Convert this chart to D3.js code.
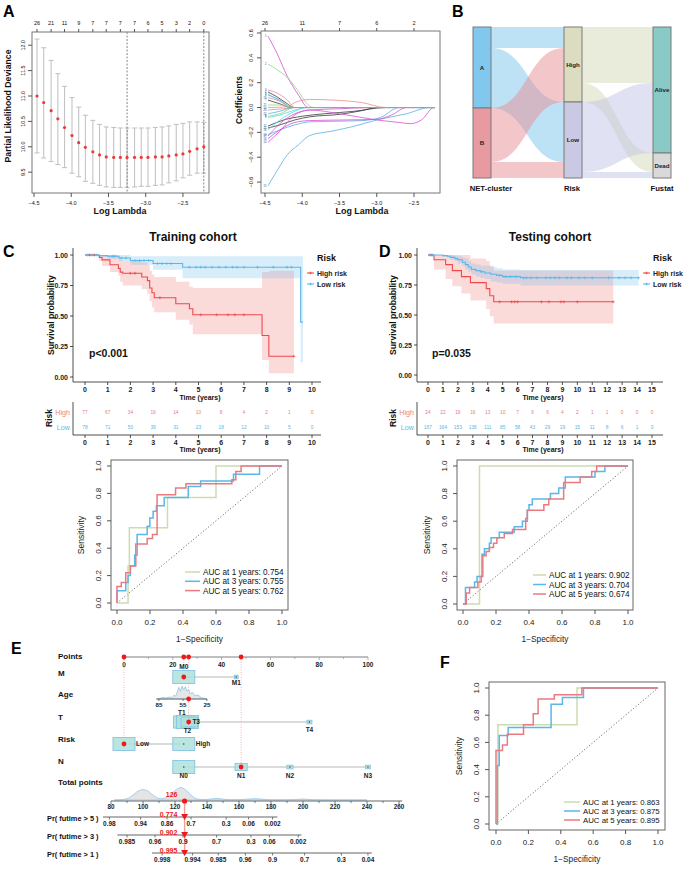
<!DOCTYPE html>
<html><head><meta charset="utf-8">
<script src="https://cdn.jsdelivr.net/npm/d3@7/dist/d3.min.js"></script>
<style>html,body{margin:0;padding:0;background:#fff;}svg{display:block;}</style>
</head><body>
<svg id="fig" width="685" height="869" font-family="'Liberation Sans', Arial, Helvetica, sans-serif"></svg>
<script>
// ================= DATA =================
// Panel A left: LASSO cross-validation curve
const cvLogLambda=[-4.46,-4.37,-4.27,-4.18,-4.09,-3.99,-3.90,-3.81,-3.71,-3.62,-3.53,-3.43,-3.34,-3.25,-3.15,-3.06,-2.97,-2.87,-2.78,-2.69,-2.59,-2.50,-2.41,-2.31,-2.22];
const cvMean =[11.00,10.87,10.71,10.55,10.38,10.22,10.08,9.99,9.90,9.84,9.80,9.79,9.79,9.79,9.79,9.79,9.79,9.80,9.80,9.82,9.84,9.86,9.91,9.96,10.00];
const cvUpper=[12.12,11.95,11.70,11.44,11.19,10.97,10.78,10.62,10.52,10.44,10.39,10.38,10.37,10.37,10.37,10.37,10.37,10.38,10.39,10.41,10.44,10.46,10.49,10.49,10.48];
const cvLower=[9.88,9.78,9.71,9.65,9.59,9.48,9.41,9.32,9.28,9.24,9.21,9.20,9.20,9.20,9.21,9.22,9.22,9.24,9.25,9.29,9.33,9.39,9.44,9.48,9.48];
const cvDfLabels=[26,21,11,9,7,7,7,7,6,5,3,2,0];
const lambdaMin=-3.25, lambda1se=-2.22;
const cvXTicks=[-4.5,-4.0,-3.5,-3.0,-2.5];
const cvYTicks=[9.5,10.0,10.5,11.0,11.5,12.0];

// Panel A right: coefficient paths [logLambda, coefficient]
const coefDfTicks=[-4.5,-4.0,-3.5,-3.0,-2.5];
const coefDfLabels=[26,11,7,6,2];
const coefYTicks=[-0.6,-0.4,-0.2,0.0,0.2,0.4,0.6];
const coefPaths=[
 [[-4.46,0.575],[-4.35,0.45],[-4.2,0.25],[-4.05,0.1],[-3.92,0]],
 [[-4.46,0.35],[-4.35,0.31],[-4.2,0.24],[-4.05,0.13],[-3.95,0.04],[-3.85,0]],
 [[-4.46,0.14],[-4.35,0.12],[-4.2,0.06],[-4.1,0]],
 [[-4.46,0.125],[-4.35,0.09],[-4.2,0.03],[-4.12,0]],
 [[-4.46,0.11],[-4.35,0.07],[-4.2,0.02],[-4.15,0]],
 [[-4.46,0.10],[-4.3,0.06],[-4.15,0]],
 [[-4.46,0.06],[-4.3,0.03],[-4.15,0]],
 [[-4.46,-0.07],[-4.3,-0.05],[-4.1,0]],
 [[-4.46,-0.08],[-4.3,-0.06],[-4.1,-0.02],[-3.9,0]],
 [[-4.46,0.0],[-4.2,0.005],[-4.1,0.04],[-3.9,0.065],[-3.6,0.06],[-3.2,0.04],[-2.88,0]],
 [[-4.46,-0.165],[-4.3,-0.14],[-4.1,-0.10],[-3.9,-0.075],[-3.5,-0.055],[-3.2,-0.025],[-3.0,0]],
 [[-4.46,-0.15],[-4.25,-0.10],[-4.0,-0.07],[-3.7,-0.05],[-3.3,-0.03],[-2.88,0]],
 [[-4.46,-0.22],[-4.3,-0.18],[-4.1,-0.14],[-3.9,-0.115],[-3.5,-0.11],[-3.2,-0.105],[-2.95,-0.08],[-2.7,0]],
 [[-4.46,-0.28],[-4.3,-0.19],[-4.1,-0.06],[-3.9,-0.02],[-3.5,-0.05],[-3.0,-0.10],[-2.7,-0.12],[-2.55,-0.13],[-2.4,-0.10],[-2.23,0]],
 [[-4.46,-0.63],[-4.35,-0.52],[-4.2,-0.38],[-4.05,-0.30],[-3.9,-0.225],[-3.6,-0.19],[-3.3,-0.15],[-3.0,-0.10],[-2.6,-0.05],[-2.29,0]],
 [[-4.46,-0.25],[-4.3,-0.18],[-4.1,-0.12],[-3.9,-0.105],[-3.4,-0.10],[-3.0,-0.095],[-2.8,-0.06],[-2.6,0]],
 [[-4.46,-0.23],[-4.3,-0.13],[-4.1,-0.05],[-3.9,-0.02],[-3.5,-0.01],[-3.1,0]],
 [[-4.46,-0.18],[-4.3,-0.10],[-4.1,-0.03],[-3.95,0]],
 [[-4.46,0.08],[-4.3,0.05],[-4.15,0]],
 [[-4.46,-0.02],[-4.25,-0.01],[-4.1,0]],
 [[-4.46,0.02],[-4.3,0.02],[-4.1,0]],
 [[-4.46,-0.05],[-4.3,-0.03],[-4.12,0]]
];
const coefPathColor=[5,2,1,0,4,3,0,2,4,1,0,0,3,5,3,5,5,4,1,1,2,3];

// Panel B: alluvial
const clusterLevels=['A','B'], riskLevels=['High','Low'], fustatLevels=['Alive','Dead'];
const flowClusterRisk=[['A','High',21],['A','Low',60],['B','High',54],['B','Low',16]];
const flowRiskFustat=[['High','Alive',56],['High','Dead',19],['Low','Alive',70],['Low','Dead',6]];

// Panel C: training KM  [time, survival] ; CI [time, lower, upper]
const trainHigh=[[0,1],[0.63,0.98],[0.75,0.96],[1.1,0.92],[1.47,0.89],[1.55,0.86],[1.66,0.85],[2.5,0.82],[2.75,0.79],[2.85,0.73],[2.95,0.69],[3.05,0.65],[4.0,0.60],[4.6,0.56],[4.75,0.51],[7.8,0.34],[8.1,0.17],[9.2,0.17]];
const trainHighCI=[[0,1,1],[0.63,0.95,1],[0.75,0.91,1],[1.1,0.86,1],[1.47,0.83,0.98],[1.55,0.78,0.96],[1.66,0.75,0.95],[2.5,0.72,0.94],[2.75,0.68,0.92],[2.85,0.62,0.87],[2.95,0.57,0.84],[3.05,0.53,0.82],[4.0,0.47,0.78],[4.6,0.43,0.74],[4.75,0.35,0.73],[7.8,0.14,0.86],[8.1,0.03,0.87],[9.2,0.03,0.87]];
const trainLow=[[0,1],[0.6,0.995],[1.0,0.99],[1.5,0.975],[2.0,0.955],[3.0,0.93],[4.3,0.90],[9.5,0.45],[9.6,0.45]];
const trainLowCI=[[0,1,1],[0.6,0.985,1],[1.0,0.97,1],[1.5,0.95,1],[2.0,0.92,0.99],[3.0,0.88,0.99],[4.3,0.81,0.99],[9.5,0.12,0.99],[9.6,0.12,0.99]];
const trainHighCens=[0.2,0.4,2.0,2.2,3.3,5.1,5.8,6.3,6.6,7.0,9.2];
const trainLowCens=[0.1,0.3,0.5,1.2,1.3,1.6,1.8,2.2,2.4,2.6,2.8,3.2,3.4,3.6,3.8,4.6,4.9,5.1,5.3,5.6,5.9,6.2,6.5,6.7,7.0,7.6,8.3,8.9,9.1];
const trainTimes=[0,1,2,3,4,5,6,7,8,9,10];
const trainRiskHigh=[77,67,34,19,14,10,8,4,2,1,0];
const trainRiskLow=[78,71,50,39,31,23,18,12,10,5,0];

// Panel D: testing KM
const testHigh=[[0,1],[0.4,0.96],[1.18,0.92],[1.63,0.87],[2.24,0.82],[2.84,0.77],[3.9,0.72],[4.14,0.66],[4.4,0.61],[12.4,0.61]];
const testHighCI=[[0,1,1],[0.4,0.88,1],[1.18,0.80,1],[1.63,0.74,1],[2.24,0.68,1],[2.84,0.62,0.97],[3.9,0.55,0.95],[4.14,0.49,0.91],[4.4,0.43,0.87],[12.4,0.43,0.87]];
const testLow=[[0,1],[1.0,0.995],[1.3,0.99],[1.5,0.98],[1.8,0.97],[2.0,0.96],[2.3,0.94],[2.5,0.92],[2.7,0.90],[2.9,0.88],[3.2,0.87],[3.5,0.86],[3.8,0.85],[4.2,0.84],[4.6,0.83],[5.0,0.82],[6.2,0.81],[14.1,0.81]];
const testLowCI=[[0,1,1],[1.0,0.985,1],[1.3,0.975,1],[1.5,0.96,1],[1.8,0.95,0.995],[2.0,0.93,0.99],[2.3,0.91,0.98],[2.5,0.88,0.97],[2.7,0.86,0.95],[2.9,0.84,0.93],[3.2,0.82,0.92],[3.5,0.81,0.91],[3.8,0.80,0.91],[4.2,0.78,0.90],[4.6,0.77,0.89],[5.0,0.76,0.88],[6.2,0.745,0.875],[14.1,0.745,0.875]];
const testHighCens=[0.2,4.8,5.6,5.8,6.0,7.6,8.1,8.9,9.1,10.0,12.4];
const testLowCens=[0.1,0.3,3.6,4.8,5.2,5.5,5.9,6.4,6.6,6.9,7.3,7.9,8.2,8.5,8.8,9.3,9.6,10.1,10.5,11.0,12.1,12.8,13.2,13.6,14.1];
const testTimes=[0,1,2,3,4,5,6,7,8,9,10,11,12,13,14,15];
const testRiskHigh=[24,22,19,16,13,10,7,6,6,4,2,1,1,0,0,0];
const testRiskLow=[167,164,153,136,111,85,58,43,29,19,15,11,8,6,1,0];

// ROC curves [FPR, TPR]
const rocTrain1=[[0,0],[0.067,0],[0.067,0.27],[0.075,0.27],[0.075,0.55],[0.306,0.55],[0.306,0.77],[0.60,0.77],[0.60,1],[1,1]];
const rocTrain3=[[0,0],[0,0.09],[0.053,0.09],[0.053,0.15],[0.067,0.15],[0.067,0.2],[0.081,0.2],[0.081,0.27],[0.107,0.27],[0.107,0.35],[0.122,0.35],[0.122,0.5],[0.183,0.5],[0.183,0.56],[0.199,0.56],[0.199,0.62],[0.219,0.62],[0.219,0.67],[0.239,0.67],[0.239,0.71],[0.286,0.71],[0.286,0.77],[0.432,0.77],[0.432,0.85],[0.507,0.85],[0.507,0.89],[0.706,0.89],[0.706,0.94],[0.864,0.94],[0.864,1],[1,1]];
const rocTrain5=[[0,0],[0,0.12],[0.026,0.12],[0.026,0.15],[0.053,0.15],[0.053,0.22],[0.081,0.22],[0.081,0.27],[0.114,0.27],[0.114,0.43],[0.183,0.43],[0.183,0.47],[0.215,0.47],[0.215,0.5],[0.243,0.5],[0.243,0.79],[0.355,0.79],[0.355,0.84],[0.418,0.84],[0.418,0.87],[0.696,0.87],[0.696,0.90],[0.72,0.90],[0.72,0.96],[0.752,0.96],[0.752,1],[1,1]];
const rocTest1=[[0,0],[0.10,0],[0.10,1],[1,1]];
const rocTest3=[[0,0],[0.015,0],[0.015,0.12],[0.07,0.12],[0.07,0.16],[0.085,0.16],[0.085,0.2],[0.115,0.2],[0.115,0.36],[0.13,0.36],[0.13,0.4],[0.16,0.4],[0.16,0.44],[0.17,0.44],[0.17,0.48],[0.22,0.48],[0.22,0.52],[0.31,0.52],[0.31,0.56],[0.36,0.56],[0.36,0.6],[0.39,0.6],[0.39,0.68],[0.40,0.68],[0.40,0.72],[0.42,0.72],[0.42,0.76],[0.53,0.76],[0.53,0.8],[0.58,0.8],[0.58,0.84],[0.62,0.84],[0.62,0.92],[0.80,0.92],[0.80,0.96],[0.86,0.96],[0.86,1],[1,1]];
const rocTest5=[[0,0],[0.02,0],[0.02,0.08],[0.04,0.08],[0.04,0.12],[0.09,0.12],[0.09,0.16],[0.11,0.16],[0.11,0.2],[0.12,0.2],[0.12,0.35],[0.14,0.35],[0.14,0.38],[0.16,0.38],[0.16,0.41],[0.185,0.41],[0.185,0.44],[0.205,0.44],[0.205,0.48],[0.25,0.48],[0.25,0.51],[0.30,0.51],[0.30,0.54],[0.38,0.54],[0.38,0.62],[0.39,0.62],[0.39,0.68],[0.49,0.68],[0.49,0.72],[0.52,0.72],[0.52,0.76],[0.61,0.76],[0.61,0.88],[0.71,0.88],[0.71,0.92],[0.78,0.92],[0.78,0.96],[0.81,0.96],[0.81,1],[1,1]];
const rocNomo1=[[0,0],[0.012,0],[0.012,0.73],[0.5,0.73],[0.5,1],[1,1]];
const rocNomo3=[[0,0],[0.008,0],[0.008,0.43],[0.02,0.43],[0.02,0.65],[0.075,0.65],[0.075,0.71],[0.34,0.71],[0.34,0.88],[0.41,0.88],[0.41,0.93],[0.54,0.93],[0.54,1],[1,1]];
const rocNomo5=[[0,0],[0,0.54],[0.04,0.54],[0.04,0.58],[0.07,0.58],[0.07,0.66],[0.17,0.66],[0.17,0.73],[0.23,0.73],[0.23,0.81],[0.26,0.81],[0.26,0.92],[0.36,0.92],[0.36,0.95],[0.53,0.95],[0.53,1],[1,1]];
const aucTrain=['0.754','0.755','0.762'], aucTest=['0.902','0.704','0.674'], aucNomo=['0.863','0.875','0.895'];
const rocYears=[1,3,5];
const rocTicks=[0,0.2,0.4,0.6,0.8,1.0];

// Panel E: nomogram (positions in points)
const pointsTicks=[0,20,40,60,80,100];
const selectedPoints=[0,24.5,26.5,48];
const nomoM=[['M0',24.5,0.97],['M1',46,0.03]];
const nomoAgeTicks=[[85,14.3],[55,24.2],[25,34.0]];
const nomoAgeSel=26.5;
const ageDensity=[[88,0],[84,0.05],[80,0.12],[76,0.08],[72,0.15],[69,0.1],[66,0.3],[64,0.2],[62,0.55],[60,0.9],[58,0.6],[56,1.0],[54,0.7],[52,0.95],[50,0.6],[48,0.75],[46,0.4],[43,0.5],[40,0.25],[36,0.3],[32,0.1],[28,0.05],[25,0]];
const nomoT=[['T1',24.5,0.35],['T2',26.0,0.40],['T3',26.8,0.23],['T4',76,0.02]];
const nomoRisk=[['Low',0,0.5],['High',24.5,0.5]];
const nomoN=[['N0',24.5,0.65],['N1',48,0.2],['N2',68,0.05],['N3',100,0.03]];
const totalTicks=[80,100,120,140,160,180,200,220,240,260];
const totalSel=126;
const totalDensity=[[82,0],[88,0.02],[92,0.15],[96,0.6],[100,0.82],[104,0.6],[108,0.15],[112,0.05],[116,0.25],[120,0.7],[124,1.0],[128,0.6],[132,0.1],[136,0.02],[142,0.05],[146,0.14],[150,0.05],[156,0.01],[164,0.04],[170,0.12],[176,0.03],[184,0],[196,0.03],[200,0.08],[204,0.03],[210,0],[240,0]];
const prLabels=['Pr( futime > 5 )','Pr( futime > 3 )','Pr( futime > 1 )'];
const prRange=[[75,184],[84,199],[105.6,243]];
const prTicks=[
 [['0.98',79],['0.94',98.5],['0.86',115],['0.7',130],['0.3',152],['0.06',166],['0.002',181]],
 [['0.985',90],['0.96',107.5],['0.9',125],['0.7',146],['0.3',167.5],['0.06',179],['0.002',197]],
 [['0.998',112],['0.994',131],['0.985',147],['0.96',164],['0.9',181],['0.7',201],['0.3',224],['0.04',240.6]]
];
const prValues=['0.774','0.902','0.995'];

// ================= DRAWING =================
const svg=d3.select('#fig');
function T(x,y,s,o={}){
  const t=svg.append('text').attr('x',x).attr('y',y).text(s)
   .attr('font-size',o.fs||8).attr('font-weight',o.fw||'normal')
   .attr('fill',o.fill||'#111').attr('text-anchor',o.anchor||'start');
  if(o.rot) t.attr('transform',`rotate(${o.rot},${x},${y})`);
  return t;
}
function L(x1,y1,x2,y2,o={}){
  return svg.append('line').attr('x1',x1).attr('y1',y1).attr('x2',x2).attr('y2',y2)
   .attr('stroke',o.stroke||'#555').attr('stroke-width',o.sw||1).attr('stroke-dasharray',o.dash||null).attr('stroke-opacity',o.op==null?1:o.op);
}
const minus=s=>s.replace('-','\u2212');

// Panel letters
T(3,17,'A',{fs:16,fw:'bold',fill:'#000'});
T(452,17,'B',{fs:16,fw:'bold',fill:'#000'});
T(3,257,'C',{fs:16,fw:'bold',fill:'#000'});
T(379,257,'D',{fs:16,fw:'bold',fill:'#000'});
T(11,654,'E',{fs:16,fw:'bold',fill:'#000'});
T(440,668,'F',{fs:16,fw:'bold',fill:'#000'});

// ---------- Panel A left ----------
(function(){
  const x=d3.scaleLinear([-4.527,-2.15],[32,209]);
  const y=d3.scaleLinear([9.09,12.26],[193,32]);
  svg.append('rect').attr('x',32).attr('y',32).attr('width',177).attr('height',161).attr('fill','none').attr('stroke','#777');
  cvLogLambda.forEach((l,i)=>{
    const cx=x(l);
    L(cx,y(cvUpper[i]),cx,y(cvLower[i]),{stroke:'#c4c4c4',sw:1.1});
    L(cx-2.5,y(cvUpper[i]),cx+2.5,y(cvUpper[i]),{stroke:'#c4c4c4',sw:1.1});
    L(cx-2.5,y(cvLower[i]),cx+2.5,y(cvLower[i]),{stroke:'#c4c4c4',sw:1.1});
  });
  [lambdaMin,lambda1se].forEach(l=>L(x(l),32,x(l),193,{stroke:'#888',dash:'2,1.5'}));
  svg.append('g').selectAll('circle').data(cvLogLambda).join('circle')
    .attr('cx',d=>x(d)).attr('cy',(d,i)=>y(cvMean[i])).attr('r',1.6).attr('fill','#ea3b3b');
  cvXTicks.forEach(v=>{L(x(v),193,x(v),197,{stroke:'#555'});T(x(v),205,minus(v.toFixed(1)),{fs:5.5,anchor:'middle'});});
  cvYTicks.forEach(v=>{L(28,y(v),32,y(v),{stroke:'#555'});T(25,y(v),v.toFixed(1),{fs:5.5,anchor:'middle',rot:-90});});
  cvDfLabels.forEach((d,i)=>{const l=cvLogLambda[i*2];L(x(l),32,x(l),29,{stroke:'#555'});T(x(l),25,d,{fs:5.5,anchor:'middle'});});
  T(120,214,'Log Lambda',{fs:8.9,fw:'bold',anchor:'middle'});
  T(11,106,'Partial Likelihood Deviance',{fs:8.7,fw:'bold',anchor:'middle',rot:-90});
})();

// ---------- Panel A right ----------
(function(){
  const x=d3.scaleLinear([-4.554,-2.151],[261,440]);
  const y=d3.scaleLinear([-0.688,0.616],[193,31]);
  const pal=['#3a3a3a','#ec8a8f','#8fd67e','#58aee8','#56dede','#d84fd4'];
  const endL=-2.22;
  const line=d3.line().x(d=>x(d[0])).y(d=>y(d[1])).curve(d3.curveMonotoneX);
  coefPaths.forEach((p,i)=>{
    const pts=p.slice(); if(pts[pts.length-1][0]<endL) pts.push([endL,0]);
    svg.append('path').attr('d',line(pts)).attr('fill','none').attr('stroke',pal[coefPathColor[i]]).attr('stroke-width',0.8);
    T(x(-4.46)-1.5,y(p[0][1])+1,i+1,{fs:2.6,anchor:'end',fill:'#444'});
  });
  svg.append('rect').attr('x',261).attr('y',31).attr('width',179).attr('height',162).attr('fill','none').attr('stroke','#777');
  coefDfTicks.forEach((v,i)=>{
    L(x(v),193,x(v),197,{stroke:'#555'});T(x(v),205,minus(v.toFixed(1)),{fs:5.5,anchor:'middle'});
    L(x(v),31,x(v),28,{stroke:'#555'});T(x(v),25,coefDfLabels[i],{fs:5.5,anchor:'middle'});
  });
  coefYTicks.forEach(v=>{L(257,y(v),261,y(v),{stroke:'#555'});T(253,y(v),minus(v.toFixed(1)),{fs:5.5,anchor:'middle',rot:-90});});
  T(362,214,'Log Lambda',{fs:8.9,fw:'bold',anchor:'middle'});
  T(242,100,'Coefficients',{fs:8.4,fw:'bold',anchor:'middle',rot:-90});
})();

// ---------- Panel B: alluvial ----------
(function(){
  const total=d3.sum(flowClusterRisk,d=>d[2]);
  const y=d3.scaleLinear([0,total],[27,178]);
  const axX=[[473,491],[564,582],[653,671]];
  const fillN={A:'#82c8ee',B:'#e79aa0',High:'#dcdcc0',Low:'#c9c9e3',Alive:'#89c9c6',Dead:'#d9d9d9'};
  const flowFill={A:'#7cc4ec',B:'#e88e96',High:'#d6d9b8',Low:'#c2c3e6'};
  function stackNodes(levels,flows,key){
    const tot={};levels.forEach(l=>tot[l]=d3.sum(flows.filter(f=>f[key]===l),f=>f[2]));
    let c=0;const pos={};levels.forEach(l=>{pos[l]=[c,c+tot[l]];c+=tot[l];});return pos;
  }
  const nC=stackNodes(clusterLevels,flowClusterRisk,0);
  const nR=stackNodes(riskLevels,flowClusterRisk,1);
  const nF=stackNodes(fustatLevels,flowRiskFustat,1);
  function ribbon(x0,a0,b0,x1,a1,b1){const xm=(x0+x1)/2;
    return `M${x0},${a0}C${xm},${a0} ${xm},${a1} ${x1},${a1}L${x1},${b1}C${xm},${b1} ${xm},${b0} ${x0},${b0}Z`;}
  function drawFlows(flows,srcPos,dstPos,srcLevels,xa,xb){
    const outOff={},inOff={};
    Object.keys(srcPos).forEach(k=>outOff[k]=srcPos[k][0]);
    Object.keys(dstPos).forEach(k=>inOff[k]=dstPos[k][0]);
    const ordered=flows.slice().sort((p,q)=>srcLevels.indexOf(p[0])-srcLevels.indexOf(q[0]));
    ordered.forEach(f=>{
      const s0=outOff[f[0]];outOff[f[0]]+=f[2];
      const d0=inOff[f[1]];inOff[f[1]]+=f[2];
      svg.append('path').attr('d',ribbon(xa,y(s0),y(s0+f[2]),xb,y(d0),y(d0+f[2])))
        .attr('fill',flowFill[f[0]]).attr('fill-opacity',0.5).attr('stroke','none');
    });
  }
  drawFlows(flowClusterRisk,nC,nR,clusterLevels,axX[0][1],axX[1][0]);
  drawFlows(flowRiskFustat,nR,nF,riskLevels,axX[1][1],axX[2][0]);
  [[nC,0],[nR,1],[nF,2]].forEach(([pos,i])=>{
    Object.keys(pos).forEach(k=>{
      svg.append('rect').attr('x',axX[i][0]).attr('y',y(pos[k][0])).attr('width',axX[i][1]-axX[i][0]).attr('height',y(pos[k][1])-y(pos[k][0]))
        .attr('fill',fillN[k]).attr('stroke','#7a7a7a').attr('stroke-width',1);
      T((axX[i][0]+axX[i][1])/2,(y(pos[k][0])+y(pos[k][1]))/2+2.2,k,{fs:6.2,fw:'bold',anchor:'middle',fill:'#222'});
    });
  });
  T(491,191,'NET-cluster',{fs:7.7,fw:'bold',anchor:'middle'});
  T(572,191,'Risk',{fs:7.7,fw:'bold',anchor:'middle'});
  T(662,191,'Fustat',{fs:7.7,fw:'bold',anchor:'middle'});
})();

// ---------- KM panels ----------
function survAt(curve,t){let s=1;curve.forEach(d=>{if(d[0]<=t)s=d[1];});return s;}
function km(o){
  const x=d3.scaleLinear([0,o.xmax],o.xr), y=d3.scaleLinear([0,1],o.yr);
  const area=d3.area().curve(d3.curveStepAfter).x(d=>x(d[0])).y0(d=>y(d[1])).y1(d=>y(d[2]));
  const line=d3.line().curve(d3.curveStepAfter).x(d=>x(d[0])).y(d=>y(d[1]));
  const red='#ef4a4c', blue='#5ab7e8';
  svg.append('path').attr('d',area(o.hiCI)).attr('fill','#ef6a6a').attr('fill-opacity',0.25);
  svg.append('path').attr('d',area(o.loCI)).attr('fill','#62b9ec').attr('fill-opacity',0.25);
  svg.append('path').attr('d',line(o.hi)).attr('fill','none').attr('stroke',red).attr('stroke-width',1.1);
  svg.append('path').attr('d',line(o.lo)).attr('fill','none').attr('stroke',blue).attr('stroke-width',1.1);
  const cross=(cx,cy,c)=>{L(cx-1.5,cy,cx+1.5,cy,{stroke:c,sw:0.7});L(cx,cy-1.5,cx,cy+1.5,{stroke:c,sw:0.7});};
  o.hiCens.forEach(t=>cross(x(t),y(survAt(o.hi,t)),red));
  o.loCens.forEach(t=>cross(x(t),y(survAt(o.lo,t)),blue));
  // axes
  L(o.axX,o.yTop,o.axX,o.axY,{stroke:'#222',sw:0.8});
  L(o.axX,o.axY,o.xEnd,o.axY,{stroke:'#222',sw:0.8});
  [0,0.25,0.5,0.75,1].forEach(v=>{L(o.axX-3,y(v),o.axX,y(v),{stroke:'#222',sw:0.8});T(o.axX-5,y(v)+2.5,v.toFixed(2),{fs:7,fw:'bold',anchor:'end',fill:'#222'});});
  o.times.forEach(v=>{L(x(v),o.axY,x(v),o.axY+3,{stroke:'#222',sw:0.8});T(x(v),o.axY+10,v,{fs:7,fw:'bold',anchor:'middle',fill:'#222'});});
  T((o.axX+o.xEnd)/2+3,o.axY+18,'Time (years)',{fs:7,fw:'bold',anchor:'middle'});
  T(o.ylabX,(o.yTop+o.axY)/2,'Survival probability',{fs:8.6,fw:'bold',anchor:'middle',rot:-90});
  T(o.titleX,241,o.title,{fs:12,fw:'bold',anchor:'middle',fill:'#111'});
  T(x(0)+4,357,o.p,{fs:10.5,fw:'bold',fill:'#111'});
  // legend
  T(o.legX,261,'Risk',{fs:9,fw:'bold'});
  [['High risk',red,273],['Low risk',blue,284]].forEach(([s,c,yy])=>{
    L(o.legX-10,yy,o.legX-3,yy,{stroke:c,sw:1.1});cross(o.legX-6.5,yy,c);
    T(o.legX,yy+2.5,s,{fs:7,fw:'bold',fill:'#222'});
  });
  // risk table
  const ry1=412, ry2=427, rax=435;
  L(o.axX,402,o.axX,rax,{stroke:'#222',sw:0.8});
  L(o.axX,rax,o.xEnd,rax,{stroke:'#222',sw:0.8});
  T(o.axX-3,ry1+2.5,'High',{fs:7.2,anchor:'end',fill:'#ea8083'});
  T(o.axX-3,ry2+2.5,'Low',{fs:7.2,anchor:'end',fill:'#62b9ec'});
  T(o.axX-21,418,'Risk',{fs:8.5,fw:'bold',anchor:'middle',rot:-90});
  o.times.forEach((v,i)=>{
    T(x(v),ry1+2,o.nHi[i],{fs:4.8,anchor:'middle',fill:'#e97a7e'});
    T(x(v),ry2+2,o.nLo[i],{fs:4.8,anchor:'middle',fill:'#58b4e8'});
    L(x(v),rax,x(v),rax+3,{stroke:'#222',sw:0.8});
    T(x(v),rax+10,v,{fs:7,fw:'bold',anchor:'middle',fill:'#222'});
  });
  T((o.axX+o.xEnd)/2+3,rax+17,'Time (years)',{fs:7,fw:'bold',anchor:'middle'});
}
km({xmax:10,xr:[85,312],yr:[377,255],axX:73,yTop:248,axY:382,xEnd:321,times:trainTimes,
  hi:trainHigh,lo:trainLow,hiCI:trainHighCI,loCI:trainLowCI,hiCens:trainHighCens,loCens:trainLowCens,
  nHi:trainRiskHigh,nLo:trainRiskLow,title:'Training cohort',titleX:193,p:'p<0.001',legX:317,ylabX:54});
km({xmax:15,xr:[428,652],yr:[375,255],axX:417,yTop:248,axY:382,xEnd:663,times:testTimes,
  hi:testHigh,lo:testLow,hiCI:testHighCI,loCI:testLowCI,hiCens:testHighCens,loCens:testLowCens,
  nHi:testRiskHigh,nLo:testRiskLow,title:'Testing cohort',titleX:550,p:'p=0.035',legX:653,ylabX:396});

// ---------- ROC panels ----------
function roc(o){
  const x=d3.scaleLinear([0,1],o.xr), y=d3.scaleLinear([0,1],o.yr);
  const cols=['#cbdcb0','#5ab7e8','#ea7a80'];
  L(x(0),y(0),x(1),y(1),{stroke:'#444',sw:0.9,dash:'1,2.2'});
  const line=d3.line().x(d=>x(d[0])).y(d=>y(d[1]));
  o.curves.forEach((c,i)=>svg.append('path').attr('d',line(c)).attr('fill','none').attr('stroke',cols[i]).attr('stroke-width',1.5));
  svg.append('rect').attr('x',o.box[0]).attr('y',o.box[1]).attr('width',o.box[2]-o.box[0]).attr('height',o.box[3]-o.box[1]).attr('fill','none').attr('stroke','#666');
  rocTicks.forEach(v=>{
    L(x(v),o.box[3],x(v),o.box[3]+4,{stroke:'#555'});T(x(v),o.box[3]+15,v.toFixed(1),{fs:8,anchor:'middle',fill:'#222'});
    L(o.box[0]-4,y(v),o.box[0],y(v),{stroke:'#555'});T(o.box[0]-10,y(v),v.toFixed(1),{fs:8,anchor:'middle',rot:-90,fill:'#222'});
  });
  T((o.box[0]+o.box[2])/2,o.box[3]+32,'1\u2212Specificity',{fs:8.3,anchor:'middle',fill:'#222'});
  T(o.box[0]-27,(o.box[1]+o.box[3])/2,'Sensitivity',{fs:8.5,anchor:'middle',rot:-90,fill:'#222'});
  o.auc.forEach((a,i)=>{
    const yy=o.legY+i*o.legDy;
    L(o.legX0,yy,o.legX1,yy,{stroke:cols[i],sw:1.5});
    T(o.legX1+3,yy+3,`AUC at ${rocYears[i]} years: ${a}`,{fs:o.legFs,fill:'#111'});
  });
}
roc({xr:[117,282],yr:[603,466],box:[111,460,288,610],curves:[rocTrain1,rocTrain3,rocTrain5],auc:aucTrain,legX0:185,legX1:200,legY:572,legDy:9.3,legFs:8.2});
roc({xr:[463,628],yr:[604,466],box:[457,460,633,610],curves:[rocTest1,rocTest3,rocTest5],auc:aucTest,legX0:533,legX1:546,legY:575,legDy:9.5,legFs:8.2});
roc({xr:[496,658],yr:[824,688],box:[489,682,665,830],curves:[rocNomo1,rocNomo3,rocNomo5],auc:aucNomo,legX0:564,legX1:580,legY:802,legDy:9,legFs:7.8});

// ---------- Panel E: nomogram ----------
(function(){
  const px=d3.scaleLinear([0,100],[124,368]);
  const tx=d3.scaleLinear([80,240],[111,367]);
  const red='#f01818', boxFill='#aee0db', boxStroke='#86c4e0';
  const lab=(s,y)=>T(58,y,s,{fs:8,fw:'bold',fill:'#111'});
  // Points axis
  lab('Points',659);
  L(px(0),657,px(100),657,{stroke:'#aaa',sw:1.6});
  d3.range(0,101,10).forEach(v=>L(px(v),657,px(v),v%20===0?660:659,{stroke:'#999',sw:0.8}));
  pointsTicks.forEach(v=>T(px(v),667,v,{fs:6.5,fw:'bold',anchor:'middle',fill:'#222'}));
  // dotted guide lines
  [[0,744],[24.5,677],[26.5,722],[48,767]].forEach(([p,yy])=>L(px(p),657,px(p),yy,{stroke:'#f2a0a0',sw:0.8,dash:'1,1.5'}));
  selectedPoints.forEach(p=>svg.append('circle').attr('cx',px(p)).attr('cy',657).attr('r',2.4).attr('fill',red));
  const rowY={M:677,Age:699,T:722,Risk:744,N:767};
  function boxRow(items,yy,labelPos){
    const fmax=d3.max(items,d=>d[2]);
    const p0=d3.min(items,d=>d[1]), p1=d3.max(items,d=>d[1]);
    L(px(p0),yy,px(p1),yy,{stroke:'#cfcfcf',sw:1.4});
    items.forEach((d,i)=>{
      const w=Math.max(3.5,22*Math.sqrt(d[2]/fmax)), h=Math.max(3.5,13*Math.sqrt(d[2]/fmax));
      svg.append('rect').attr('x',px(d[1])-w/2).attr('y',yy-h/2).attr('width',w).attr('height',h)
        .attr('fill',boxFill).attr('fill-opacity',0.85).attr('stroke',boxStroke).attr('stroke-width',0.9);
      svg.append('circle').attr('cx',px(d[1])).attr('cy',yy).attr('r',0.7).attr('fill','#333');
      const lp=labelPos[i];
      T(px(d[1])+lp[0],yy+lp[1],d[0],{fs:6.5,fw:'bold',anchor:lp[2],fill:'#222'});
    });
  }
  lab('M',676);
  boxRow(nomoM,rowY.M,[[0,-8,'middle'],[0,8,'middle']]);
  svg.append('circle').attr('cx',px(24.5)).attr('cy',rowY.M).attr('r',2.4).attr('fill',red);
  // Age
  lab('Age',697);
  const ageX=d3.scaleLinear([85,25],[px(14.3),px(34.0)]);
  const ageArea=d3.area().x(d=>ageX(d[0])).y0(rowY.Age).y1(d=>rowY.Age-13*d[1]).curve(d3.curveLinear);
  svg.append('path').attr('d',ageArea(ageDensity)).attr('fill','#e6e6e6').attr('stroke','#8cc4ea').attr('stroke-width',0.8);
  L(ageX(88),rowY.Age,ageX(25),rowY.Age,{stroke:'#555',sw:0.8});
  nomoAgeTicks.forEach(([a,p])=>{L(px(p),rowY.Age,px(p),rowY.Age+2,{stroke:'#555',sw:0.8});T(px(p),rowY.Age+8,a,{fs:6.2,fw:'bold',anchor:'middle',fill:'#222'});});
  svg.append('circle').attr('cx',px(nomoAgeSel)).attr('cy',rowY.Age).attr('r',2.4).attr('fill',red);
  // T
  lab('T',720);
  boxRow(nomoT,rowY.T,[[-2,-7,'middle'],[0,11,'middle'],[3,2.3,'start'],[0,10,'middle']]);
  svg.append('circle').attr('cx',px(26.5)).attr('cy',rowY.T).attr('r',2.4).attr('fill',red);
  // Risk
  lab('Risk',742);
  boxRow(nomoRisk,rowY.Risk,[[12,2.3,'start'],[12,2.3,'start']]);
  svg.append('circle').attr('cx',px(0)).attr('cy',rowY.Risk).attr('r',2.4).attr('fill',red);
  // N
  lab('N',764);
  boxRow(nomoN,rowY.N,[[0,11,'middle'],[0,11,'middle'],[0,11,'middle'],[0,11,'middle']]);
  svg.append('circle').attr('cx',px(48)).attr('cy',rowY.N).attr('r',2.4).attr('fill',red);
  // Total points
  lab('Total points',785);
  const ty=801;
  const dArea=d3.area().x(d=>tx(d[0])).y0(ty-1).y1(d=>ty-1-14*d[1]).curve(d3.curveBasis);
  svg.append('path').attr('d',dArea(totalDensity)).attr('fill','#e4e4e4').attr('stroke','#93c6ea').attr('stroke-width',0.8);
  L(tx(80),ty,tx(262),ty,{stroke:'#555',sw:0.9});
  d3.range(80,261,10).forEach(v=>L(tx(v),ty,tx(v),ty+(v%20===0?3:2),{stroke:'#555',sw:0.8}));
  totalTicks.forEach(v=>T(tx(v),ty+8,v,{fs:6.3,fw:'bold',anchor:'middle',fill:'#222'}));
  // red vertical through total
  L(tx(totalSel),ty,tx(totalSel),855,{stroke:'#f07070',sw:1.4,op:0.7});
  svg.append('circle').attr('cx',tx(totalSel)).attr('cy',ty).attr('r',2.6).attr('fill',red);
  T(tx(totalSel)-13,797,totalSel,{fs:7,fw:'bold',anchor:'middle',fill:red});
  // probability axes
  const prY=[817,835,853];
  prLabels.forEach((s,i)=>{
    const yy=prY[i];
    T(47,yy+4,s,{fs:7.4,fw:'bold',fill:'#111'});
    L(tx(prRange[i][0]),yy,tx(prRange[i][1]),yy,{stroke:'#555',sw:0.9});
    prTicks[i].forEach(([lbl,p])=>{L(tx(p),yy,tx(p),yy+2.5,{stroke:'#555',sw:0.8});T(tx(p),yy+9,lbl,{fs:6.5,fw:'bold',anchor:'middle',fill:'#222'});});
    const cx=tx(totalSel);
    svg.append('path').attr('d',`M${cx-3.5},${yy-3}L${cx+3.5},${yy-3}L${cx},${yy+3}Z`).attr('fill',red);
    T(cx-16,yy-0.5,prValues[i],{fs:7,fw:'bold',anchor:'middle',fill:red});
  });
})();
</script>
</body></html>
